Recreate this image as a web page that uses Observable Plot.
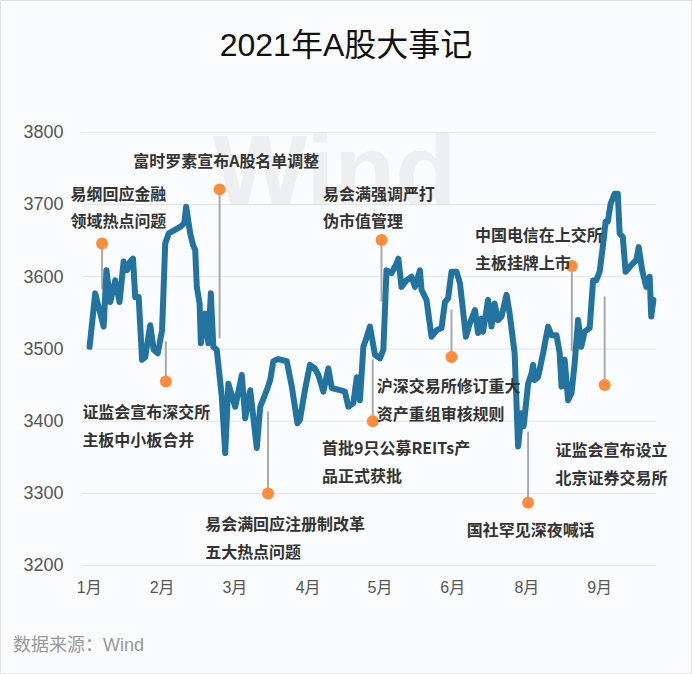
<!DOCTYPE html>
<html><head><meta charset="utf-8">
<script src="https://cdn.jsdelivr.net/npm/d3@7"></script>
<script src="https://cdn.jsdelivr.net/npm/@observablehq/plot@0.6"></script>
<style>
body{margin:0;background:#fff;}
#wrap{position:relative;width:692px;height:674px;box-sizing:border-box;border:1px solid #e2e2e2;background:#fbfcfe;overflow:hidden;font-family:"Liberation Sans","Noto Sans CJK SC",sans-serif;}
#title{position:absolute;top:28px;left:-1px;width:692px;text-align:center;font-size:32px;line-height:32px;color:#111;}
#caption{position:absolute;left:12px;top:635px;font-size:18px;line-height:18px;color:#999;}
#wm{position:absolute;left:212px;top:119px;font-size:100px;line-height:100px;font-weight:bold;color:#eeeff1;font-family:"Liberation Sans",sans-serif;}
#chart{position:absolute;left:-1px;top:-1px;}
</style></head>
<body>
<div id="wrap">
  <div id="wm">Wind</div>
  <div id="title">2021年A股大事记</div>
  <div id="chart"></div>
  <div id="caption">数据来源：Wind</div>
</div>
<script>
// trading-day index and index level
const days = [0.1,1.9,4.6,5.5,6.7,8.3,9.7,11.0,12.1,13.1,14.0,14.7,15.8,16.9,17.9,19.5,20.6,21.9,23.3,24.3,25.4,29.1,30.4,31.0,32.3,33.2,33.9,34.4,35.3,35.7,37.1,38.1,38.9,39.7,40.8,42.4,43.5,44.5,46.7,48.8,49.9,51.5,53.6,54.7,56.8,57.9,58.9,60.5,63.2,64.8,66.6,67.4,69.0,70.6,72.2,73.3,74.9,76.5,77.6,80.2,81.8,82.9,84.5,85.6,86.6,87.7,88.8,89.8,91.4,93.0,94.1,95.1,96.7,98.3,98.9,99.9,101.5,103.1,104.2,105.8,106.3,107.9,109.5,111.1,112.7,113.8,114.8,115.9,117.5,118.6,119.1,120.5,121.8,123.4,124.4,125.5,126.0,127.6,128.7,129.7,130.8,131.9,133.5,134.5,136.1,137.2,138.3,139.0,140.4,141.5,142.0,142.5,143.6,145.2,146.8,147.9,149.5,150.5,151.1,152.1,153.2,154.3,155.3,156.4,157.4,158.5,160.1,161.2,162.2,163.3,164.3,165.2,165.9,166.8,168.1,169.1,169.7,170.7,171.6,173.4,175.0,175.8,176.9,178.2,179.3,179.8,180.5];
const closes = [3503,3577,3531,3609,3565,3595,3565,3621,3609,3621,3625,3572,3572,3485,3489,3533,3499,3494,3526,3646,3660,3669,3674,3697,3660,3644,3637,3586,3563,3508,3549,3508,3577,3503,3499,3434,3356,3452,3420,3464,3404,3443,3363,3420,3443,3457,3483,3486,3483,3448,3397,3402,3443,3478,3473,3464,3441,3473,3446,3443,3441,3420,3425,3461,3429,3503,3517,3531,3492,3487,3499,3609,3605,3618,3625,3586,3595,3600,3586,3609,3582,3568,3517,3526,3529,3565,3570,3607,3607,3591,3572,3517,3536,3554,3522,3542,3524,3568,3531,3563,3540,3545,3575,3549,3494,3365,3411,3393,3452,3466,3478,3457,3461,3494,3531,3519,3519,3494,3448,3485,3429,3439,3480,3540,3503,3524,3529,3595,3595,3607,3641,3676,3676,3701,3715,3715,3660,3655,3607,3616,3623,3641,3609,3586,3600,3545,3568];

const yTicks = [3200,3300,3400,3500,3600,3700,3800];
const monthTicks = [0,23.3,46.6,70,93,116.3,140,163.3];
const monthLabels = ["1月","2月","3月","4月","5月","6月","8月","9月"];

// events
const eventLabels = ["易纲回应金融\n领域热点问题","证监会宣布深交所\n主板中小板合并","富时罗素宣布A股名单调整","易会满回应注册制改革\n五大热点问题","易会满强调严打\n伪市值管理","首批9只公募REITs产\n品正式获批","沪深交易所修订重大\n资产重组审核规则","中国电信在上交所\n主板挂牌上市","国社罕见深夜喊话","证监会宣布设立\n北京证券交易所"];
const eventDays   = [4.1,24.5,41.7,57.2,93.5,90.7,115.9,154.4,140.4,164.9];
const eventDots   = [3646,3455,3721,3300,3651,3400,3489,3615,3287,3450];
const eventStems  = [3582,3510,3514,3413,3565,3485,3554,3496,3385,3572];
const labelDays   = [-6.0,-2.2,14.1,37.1,74.8,74.5,92.0,123.4,120.8,149.2];
const labelValues = [3700,3398,3764,3243,3700,3348,3434,3642,3254,3345];

const series = days.map((d,i)=>({day:d, close:closes[i]}));
const events = eventLabels.map((t,i)=>({label:t, day:eventDays[i], dot:eventDots[i], stem:eventStems[i], tx:labelDays[i], ty:labelValues[i]}));
const monthMap = new Map(monthTicks.map((t,i)=>[t,monthLabels[i]]));

const chart = Plot.plot({
  width:692, height:674,
  marginTop:132, marginBottom:108, marginLeft:82, marginRight:35,
  style:{background:"transparent", fontFamily:"'Liberation Sans','Noto Sans CJK SC',sans-serif", fontSize:"16px", color:"#555", overflow:"visible"},
  x:{domain:[-2.2,181.5], axis:null},
  y:{domain:[3200,3800], axis:null},
  marks:[
    Plot.gridY(yTicks,{stroke:"#e4e4e4", strokeOpacity:1, strokeWidth:1}),
    Plot.axisY(yTicks,{tickSize:0, tickPadding:19, tickFormat:d=>String(d), fontSize:18, fill:"#555"}),
    Plot.axisX(monthTicks,{tickSize:0, tickPadding:16, tickFormat:d=>monthMap.get(d), fontSize:16, fill:"#555"}),
    Plot.ruleX(events,{x:"day", y1:"stem", y2:"dot", stroke:"#aaaaaa", strokeWidth:2}),
    Plot.line(series,{x:"day", y:"close", stroke:"#2373a0", strokeWidth:6, strokeLinejoin:"round", strokeLinecap:"round"}),
    Plot.dot(events,{x:"day", y:"dot", r:6, fill:"#fd8d3c", stroke:"none"}),
    Plot.text(events,{x:"tx", y:"ty", text:"label", textAnchor:"start", lineHeight:1.75, fontSize:16, fontWeight:"bold", fill:"#333", fontFamily:"'Noto Sans CJK SC','Liberation Sans',sans-serif"})
  ]
});
document.getElementById("chart").appendChild(chart);
</script>
</body></html>
